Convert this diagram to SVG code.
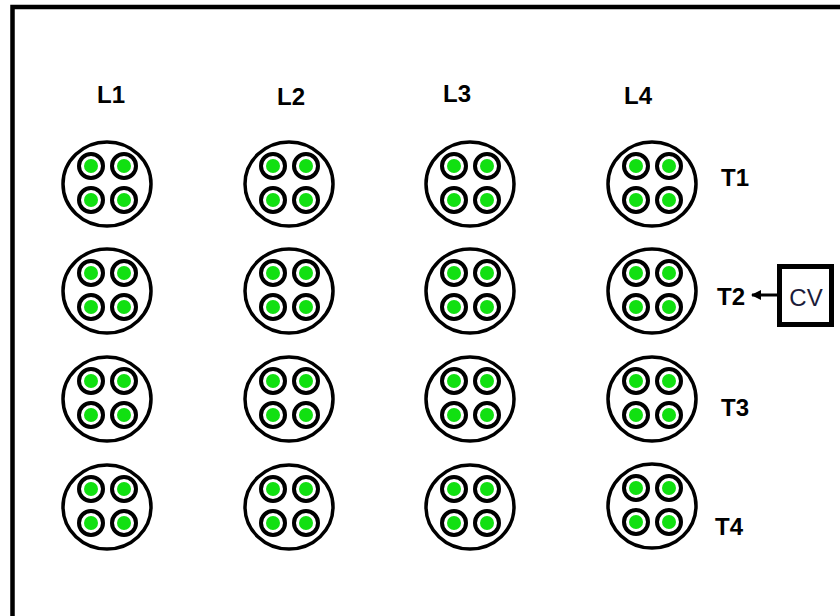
<svg xmlns="http://www.w3.org/2000/svg" width="840" height="616" viewBox="0 0 840 616">
<style>
.lbl{font-family:"Liberation Sans",Arial,sans-serif;font-weight:bold;font-size:24px;fill:#000}
.big{fill:#fff;stroke:#000;stroke-width:3.5}
.small{fill:#fff;stroke:#000;stroke-width:4}
.dot{fill:#11e011}
</style>
<defs>
<g id="unit">
<ellipse class="big" cx="0" cy="0" rx="44" ry="42"/>
<circle class="small" cx="-16" cy="-18" r="12"/>
<circle class="dot" cx="-16" cy="-18" r="7"/>
<circle class="small" cx="17" cy="-18" r="12"/>
<circle class="dot" cx="17" cy="-18" r="7"/>
<circle class="small" cx="-16" cy="16" r="12"/>
<circle class="dot" cx="-16" cy="16" r="7"/>
<circle class="small" cx="17" cy="16" r="12"/>
<circle class="dot" cx="17" cy="16" r="7"/>
</g>
<marker id="ah" markerWidth="10" markerHeight="10" refX="9" refY="5" orient="auto" markerUnits="userSpaceOnUse">
<path d="M0,0 L10,5 L0,10 z" fill="#000"/>
</marker>
</defs>
<rect x="0" y="0" width="840" height="616" fill="#fff"/>
<path d="M12.5,616 V7 H840" fill="none" stroke="#000" stroke-width="4.5"/>
<g id="labels">
<text class="lbl" x="97" y="103">L1</text>
<text class="lbl" x="277" y="105">L2</text>
<text class="lbl" x="443" y="102">L3</text>
<text class="lbl" x="624" y="104">L4</text>
<text class="lbl" x="721" y="186">T1</text>
<text class="lbl" x="717" y="305">T2</text>
<text class="lbl" x="721" y="416">T3</text>
<text class="lbl" x="715" y="535">T4</text>
</g>
<g id="L1T1"><use href="#unit" x="107" y="184"/></g>
<g id="L2T1"><use href="#unit" x="289" y="184"/></g>
<g id="L3T1"><use href="#unit" x="470" y="184"/></g>
<g id="L4T1"><use href="#unit" x="652" y="184"/></g>
<g id="L1T2"><use href="#unit" x="107" y="291"/></g>
<g id="L2T2"><use href="#unit" x="289" y="291"/></g>
<g id="L3T2"><use href="#unit" x="470" y="291"/></g>
<g id="L4T2"><use href="#unit" x="652" y="291"/></g>
<g id="L1T3"><use href="#unit" x="107" y="399"/></g>
<g id="L2T3"><use href="#unit" x="289" y="399"/></g>
<g id="L3T3"><use href="#unit" x="470" y="399"/></g>
<g id="L4T3"><use href="#unit" x="652" y="399"/></g>
<g id="L1T4"><use href="#unit" x="107" y="507"/></g>
<g id="L2T4"><use href="#unit" x="289" y="507"/></g>
<g id="L3T4"><use href="#unit" x="470" y="507"/></g>
<g id="L4T4"><use href="#unit" x="652" y="506"/></g>
<g id="CV">
<rect x="779.5" y="266.5" width="52" height="58" fill="#fff" stroke="#000" stroke-width="5"/>
<text x="806" y="306" text-anchor="middle" font-family="'Liberation Sans',Arial,sans-serif" font-size="24" fill="#1c1c3a">CV</text>
</g>
<g id="connectors">
<line x1="777" y1="295" x2="752" y2="295" stroke="#000" stroke-width="3" marker-end="url(#ah)"/>
</g>
</svg>
